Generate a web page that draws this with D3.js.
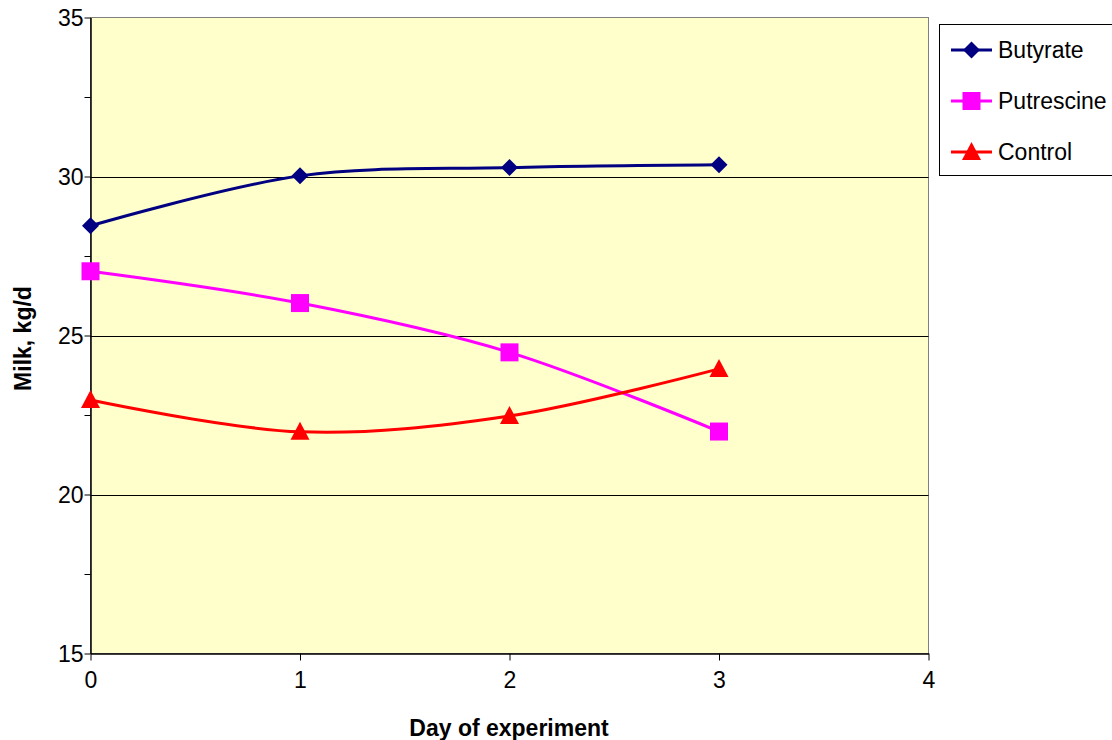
<!DOCTYPE html>
<html>
<head>
<meta charset="utf-8">
<script src="https://cdn.jsdelivr.net/npm/d3@7/dist/d3.min.js"></script>
<style>
  html, body { margin: 0; padding: 0; background: #ffffff; }
  svg { display: block; font-family: "Liberation Sans", Arial, sans-serif; }
</style>
</head>
<body>
<svg id="chart" width="1112" height="740"></svg>
<script>
// Milk yield by day of experiment
const days = [0, 1, 2, 3];
const butyrate = [28.45, 30.02, 30.28, 30.37];
const putrescine = [27.02, 26.02, 24.47, 21.98];
const control = [22.97, 21.97, 22.47, 23.95];
const xTicks = [0, 1, 2, 3, 4];
const yTicks = [15, 20, 25, 30, 35];
const yMinorTicks = [15, 17.5, 20, 22.5, 25, 27.5, 30, 32.5, 35];
const seriesNames = ["Butyrate", "Putrescine", "Control"];

const series = [
  { name: seriesNames[0], values: butyrate, color: "#000080", shape: "diamond" },
  { name: seriesNames[1], values: putrescine, color: "#FF00FF", shape: "square" },
  { name: seriesNames[2], values: control, color: "#FF0000", shape: "triangle" }
];

const FONT = 23;
const svg = d3.select("#chart");
const plot = { left: 90.5, right: 928.5, top: 17.5, bottom: 653.5 };

const x = d3.scaleLinear().domain([0, 4]).range([plot.left, plot.right]);
const y = d3.scaleLinear().domain([15, 35]).range([plot.bottom, plot.top]);

// plot background
svg.append("rect")
  .attr("x", plot.left).attr("y", plot.top)
  .attr("width", plot.right - plot.left).attr("height", plot.bottom - plot.top)
  .attr("fill", "#FFFFCC")
  .attr("stroke", "#808080").attr("stroke-width", 1);

// horizontal gridlines
svg.append("g").selectAll("line")
  .data(yTicks.filter(v => v > 15 && v < 35))
  .join("line")
  .attr("x1", plot.left).attr("x2", plot.right)
  .attr("y1", d => Math.round(y(d)) + 0.5).attr("y2", d => Math.round(y(d)) + 0.5)
  .attr("stroke", "#000000").attr("stroke-width", 1);

// y axis
const yAxis = svg.append("g")
  .attr("transform", `translate(${plot.left},0)`)
  .call(d3.axisLeft(y).tickValues(yMinorTicks).tickSize(6).tickSizeOuter(0)
    .tickFormat(d => yTicks.includes(d) ? d : ""));
yAxis.select(".domain").attr("stroke", "#000000").attr("stroke-width", 1.5);
yAxis.selectAll(".tick line").attr("stroke", "#000000");
yAxis.selectAll(".tick text")
  .attr("font-size", FONT).attr("fill", "#000000").attr("x", -7).attr("dy", "0.36em")
  .style("font-family", "'Liberation Sans', Arial, sans-serif");

// x axis
const xAxis = svg.append("g")
  .attr("transform", `translate(0,${plot.bottom})`)
  .call(d3.axisBottom(x).tickValues(xTicks).tickSize(7).tickSizeOuter(0).tickFormat(d3.format("d")));
xAxis.select(".domain").attr("stroke", "#000000").attr("stroke-width", 1.5);
xAxis.selectAll(".tick line").attr("stroke", "#000000");
xAxis.selectAll(".tick text")
  .attr("font-size", FONT).attr("fill", "#000000").attr("y", 26).attr("dy", "0.36em")
  .style("font-family", "'Liberation Sans', Arial, sans-serif");

// axis titles
svg.append("text")
  .attr("x", 509).attr("y", 728).attr("dy", "0.36em")
  .attr("text-anchor", "middle")
  .attr("font-size", FONT).attr("font-weight", "bold")
  .text("Day of experiment");

svg.append("text")
  .attr("transform", `translate(23,${(plot.top + plot.bottom) / 2 + 3}) rotate(-90)`)
  .attr("text-anchor", "middle").attr("dy", "0.36em")
  .attr("font-size", FONT).attr("font-weight", "bold")
  .text("Milk, kg/d");

// marker shapes
function markerPath(shape) {
  if (shape === "diamond") return "M0,-8.5L8.5,0L0,8.5L-8.5,0Z";
  if (shape === "square") return "M-9,-9H9V9H-9Z";
  return "M0,-10L9.5,8H-9.5Z";
}

// smoothed series lines
const line = d3.line()
  .x((d, i) => x(days[i]))
  .y(d => y(d))
  .curve(d3.curveCatmullRom.alpha(0.5));

const g = svg.append("g");
series.forEach(s => {
  g.append("path")
    .attr("d", line(s.values))
    .attr("fill", "none")
    .attr("stroke", s.color)
    .attr("stroke-width", 3);
});
series.forEach(s => {
  g.append("g").selectAll("path")
    .data(s.values)
    .join("path")
    .attr("transform", (d, i) => `translate(${x(days[i])},${y(d)})`)
    .attr("d", markerPath(s.shape))
    .attr("fill", s.color);
});

// legend
const legend = svg.append("g");
legend.append("rect")
  .attr("x", 939.5).attr("y", 24.5)
  .attr("width", 190).attr("height", 151)
  .attr("fill", "#ffffff").attr("stroke", "#000000").attr("stroke-width", 1);

series.forEach((s, i) => {
  const cy = 50 + i * 51;
  legend.append("line")
    .attr("x1", 951).attr("x2", 992).attr("y1", cy).attr("y2", cy)
    .attr("stroke", s.color).attr("stroke-width", 3);
  legend.append("path")
    .attr("transform", `translate(971.5,${cy})`)
    .attr("d", markerPath(s.shape))
    .attr("fill", s.color);
  legend.append("text")
    .attr("x", 998).attr("y", cy).attr("dy", "0.36em")
    .attr("font-size", FONT).attr("fill", "#000000")
    .text(s.name);
});
</script>
</body>
</html>
